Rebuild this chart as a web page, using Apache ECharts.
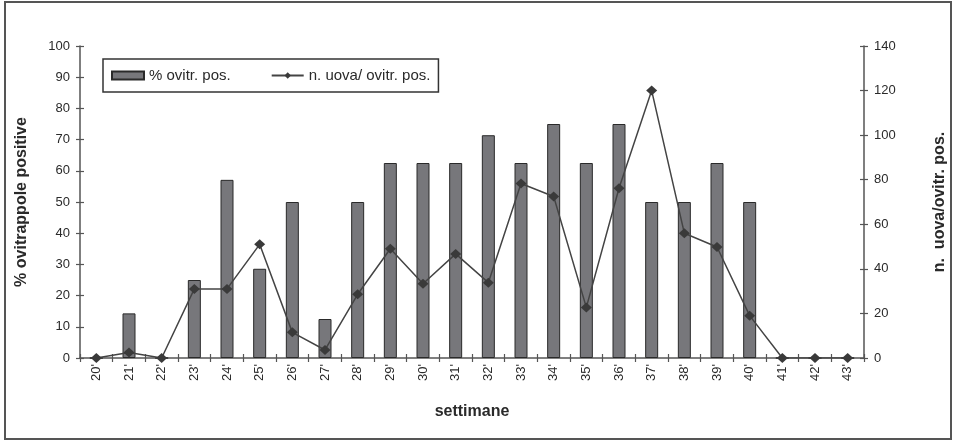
<!DOCTYPE html>
<html><head><meta charset="utf-8">
<script src="https://cdn.jsdelivr.net/npm/echarts@6/dist/echarts.min.js"></script>
<style>
html,body{margin:0;padding:0;background:#fff;}
#frame{position:absolute;left:4px;top:1px;width:948px;height:439px;border:2px solid #555;box-sizing:border-box;}
#c{position:absolute;left:0;top:0;width:955px;height:442px;}
</style></head>
<body>
<div id="frame"></div>
<div id="c"></div>
<script>
const weeks = ["20'","21'","22'","23'","24'","25'","26'","27'","28'","29'","30'","31'","32'","33'","34'","35'","36'","37'","38'","39'","40'","41'","42'","43'"];
const pctPositive = [0, 14.3, 0, 25, 57.1, 28.6, 50, 12.5, 50, 62.5, 62.5, 62.5, 71.4, 62.5, 75, 62.5, 75, 50, 50, 62.5, 50, 0, 0, 0];
const eggsPerTrap = [0, 2.5, 0, 31, 31, 51, 11.5, 3.6, 28.6, 49, 33.3, 46.7, 33.8, 78.3, 72.5, 22.7, 76.2, 120, 56, 49.8, 19, 0, 0, 0];
const leftTicks = [0, 100, 10];
const rightTicks = [0, 140, 20];

const FONT = 'Liberation Sans, Arial, sans-serif';
const chart = echarts.init(document.getElementById('c'), null, {renderer:'canvas'});
const axisCol = '#555';
const txtCol = '#2a2a2a';

const baseX = {
  type:'category', data:weeks, position:'bottom', boundaryGap:true
};
chart.setOption({
  animation:false,
  grid:{left:80, right:91, top:46, bottom:84, outerBoundsMode:'none', containLabel:false},
  legend:{
    left:103, top:59, padding:[9,8,9,8], itemGap:40,
    borderColor:'#333', borderWidth:1.5,
    itemWidth:32, itemHeight:8,
    textStyle:{fontFamily:FONT, fontSize:15, color:txtCol},
    data:[
      {name:'% ovitr. pos.', icon:'rect'},
      {name:'n. uova/ ovitr. pos.'}
    ]
  },
  xAxis:[
    Object.assign({}, baseX, {
      name:'settimane', nameLocation:'middle', nameGap:46,
      nameTextStyle:{fontFamily:FONT, fontSize:16, fontWeight:'bold', color:txtCol},
      axisLine:{lineStyle:{color:axisCol, width:1.5}},
      axisTick:{show:true, length:4, lineStyle:{color:axisCol, width:1.2}},
      axisLabel:{rotate:90, fontFamily:FONT, fontSize:13, color:txtCol, margin:6, interval:0}
    }),
    Object.assign({}, baseX, {
      axisLine:{show:false},
      axisTick:{show:true, inside:true, length:4, lineStyle:{color:axisCol, width:1.2}},
      axisLabel:{show:false}
    })
  ],
  yAxis:[
    {
      type:'value', min:leftTicks[0], max:leftTicks[1], interval:leftTicks[2], position:'left',
      name:'% ovitrappole positive', nameLocation:'middle', nameGap:50, nameRotate:90,
      nameTextStyle:{fontFamily:FONT, fontSize:16, fontWeight:'bold', color:txtCol},
      axisLine:{show:true, lineStyle:{color:axisCol, width:1.5}},
      axisTick:{show:true, length:4, lineStyle:{color:axisCol, width:1.2}},
      axisLabel:{fontFamily:FONT, fontSize:13, color:txtCol, margin:10},
      splitLine:{show:false}
    },
    {
      type:'value', min:rightTicks[0], max:rightTicks[1], interval:rightTicks[2], position:'right',
      name:'n.  uova/ovitr. pos.', nameLocation:'middle', nameGap:68, nameRotate:90,
      nameTextStyle:{fontFamily:FONT, fontSize:16, fontWeight:'bold', color:txtCol},
      axisLine:{show:true, lineStyle:{color:axisCol, width:1.5}},
      axisTick:{show:true, length:4, lineStyle:{color:axisCol, width:1.2}},
      axisLabel:{fontFamily:FONT, fontSize:13, color:txtCol, margin:10},
      splitLine:{show:false}
    },
    {
      type:'value', min:leftTicks[0], max:leftTicks[1], interval:leftTicks[2], position:'left',
      axisLine:{show:false}, axisLabel:{show:false}, splitLine:{show:false},
      axisTick:{show:true, inside:true, length:4, lineStyle:{color:axisCol, width:1.2}}
    },
    {
      type:'value', min:rightTicks[0], max:rightTicks[1], interval:rightTicks[2], position:'right',
      axisLine:{show:false}, axisLabel:{show:false}, splitLine:{show:false},
      axisTick:{show:true, inside:true, length:4, lineStyle:{color:axisCol, width:1.2}}
    }
  ],
  series:[
    {
      name:'% ovitr. pos.', type:'bar', data:pctPositive, xAxisIndex:0, yAxisIndex:0,
      barWidth:13,
      itemStyle:{color:'#77777b', borderColor:'#2a2a2a', borderWidth:1}
    },
    {
      name:'n. uova/ ovitr. pos.', type:'line', data:eggsPerTrap, xAxisIndex:0, yAxisIndex:1,
      symbol:'diamond', symbolSize:[11,10], showSymbol:true,
      lineStyle:{color:'#444', width:1.5},
      itemStyle:{color:'#3a3a3a'}
    }
  ]
});
</script>
</body></html>
